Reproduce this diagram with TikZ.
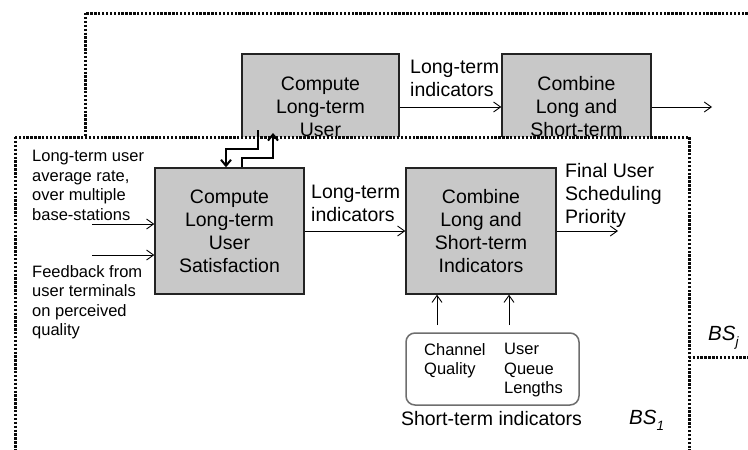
\documentclass[tikz,border=0pt]{standalone}
\usepackage{fontspec}
\setmainfont{Liberation Sans}
\usetikzlibrary{arrows.meta,calc}
\definecolor{boxfill}{RGB}{200,200,200}
\definecolor{boxline}{RGB}{35,35,35}
\definecolor{dotcol}{RGB}{10,10,10}
\definecolor{roundline}{RGB}{110,110,110}
\begin{document}
\begin{tikzpicture}[x=1pt,y=-1pt,
  bigtxt/.style={font=\fontsize{19.5}{23}\selectfont},
  smalltxt/.style={font=\fontsize{16.5}{19.5}\selectfont},
  blk/.style={draw=boxline,line width=1.4pt,fill=boxfill,align=center,inner sep=0pt,bigtxt},
  lbl/.style={align=left,inner sep=0pt,anchor=north west},
  zone/.style={draw=dotcol,line width=3pt,dash pattern=on 2.4pt off 1.5pt},
  flow/.style={draw=black,line width=0.9pt,-{Straight Barb[length=7pt,width=10pt]}},
  link/.style={draw=black,line width=2pt,-{Straight Barb[length=6pt,width=10pt]}},
  bslbl/.style={inner sep=0pt,anchor=base west,font=\fontsize{20.5}{23}\selectfont\itshape},
]
\clip (0,0) rectangle (748,450);

% ---- neighbouring base station BS_j (behind) ----
\draw[zone] (85,13) rectangle (790,357);
\node[blk,minimum width=157pt,minimum height=106pt] (bb1) at (320.5,107)
  {Compute\\Long-term\\User};
\node[blk,minimum width=149pt,minimum height=106pt] (bb2) at (576.5,107)
  {Combine\\Long and\\Short-term};
\coordinate (bbout) at (712,107);
\draw[flow] (bb1) -- (bb2);
\draw[flow] (bb2) -- (bbout);
\node[lbl,bigtxt] (bblt) at (410,60) {Long-term\\indicators};
\node[bslbl] (bsj) at (708,340) {BS\raisebox{-6pt}{\fontsize{13.5}{14}\selectfont j}};

% ---- serving base station BS_1 (front) ----
\draw[zone,fill=white] (15,137) rectangle (689,480);

\node[blk,minimum width=149pt,minimum height=126pt] (fb1) at (229.5,231)
  {Compute\\Long-term\\User\\Satisfaction};
\node[blk,minimum width=150pt,minimum height=126pt] (fb2) at (481,231)
  {Combine\\Long and\\Short-term\\Indicators};

\node[lbl,smalltxt] (inlt) at (32,150)
  {Long-term user\\average rate,\\over multiple\\base-stations};
\node[lbl,smalltxt] (infb) at (32,265)
  {Feedback from\\user terminals\\on perceived\\quality};
\coordinate (in1) at (92,224);
\coordinate (in2) at (92,255);
\draw[flow] (in1) -- (in1 -| fb1.west);
\draw[flow] (in2) -- (in2 -| fb1.west);

\draw[flow] (fb1) -- (fb2);
\node[lbl,bigtxt] (fblt) at (311,185) {Long-term\\indicators};

\coordinate (fout) at (618,231);
\draw[flow] (fb2) -- (fout);
\node[lbl,bigtxt] (final) at (565,163) {Final User\\Scheduling\\Priority};

% short-term indicators
\node[draw=roundline,line width=1.5pt,rounded corners=9pt,
      minimum width=173pt,minimum height=72pt] (stbox) at (492.5,369) {};
\node[lbl,smalltxt] (chq) at (424,343) {Channel\\Quality};
\node[lbl,smalltxt] (uql) at (504,343) {User\\Queue\\Lengths};
\node[bigtxt,inner sep=0pt,anchor=base] (stlbl) at (491.5,425) {Short-term indicators};
\coordinate (st1) at (437,325);
\coordinate (st2) at (509,325);
\draw[flow] (st1) -- (st1 |- fb2.south);
\draw[flow] (st2) -- (st2 |- fb2.south);

\node[bslbl] (bs1) at (629,424) {BS\raisebox{-6pt}{\fontsize{13.5}{14}\selectfont 1}};

% exchange between the two base stations
\coordinate (dn) at (258,130);
\coordinate (dk) at (226,149);
\draw[link] (dn) |- (dk) -- (dk |- fb1.north);
\coordinate (uk) at (242,158);
\coordinate (upt) at (273,133);
\draw[link] (uk |- fb1.north) -- (uk) -| (upt);
\end{tikzpicture}
\end{document}
